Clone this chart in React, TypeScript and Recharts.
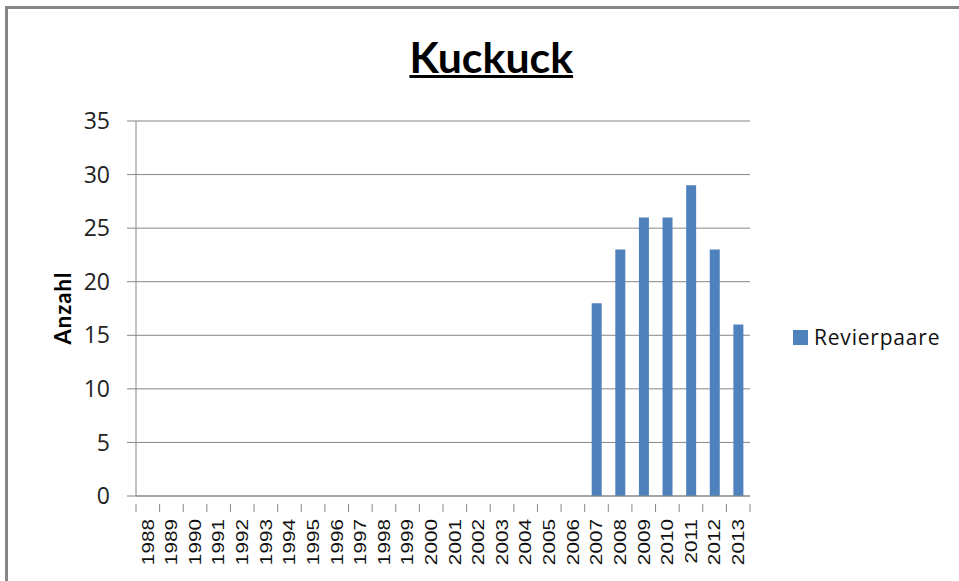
import React from 'react';
import { BarChart, Bar, XAxis, YAxis, CartesianGrid, Label } from 'recharts';

const years = ['1988','1989','1990','1991','1992','1993','1994','1995','1996','1997','1998','1999','2000','2001','2002','2003','2004','2005','2006','2007','2008','2009','2010','2011','2012','2013'];
const revierpaare: (number | null)[] = [null,null,null,null,null,null,null,null,null,null,null,null,null,null,null,null,null,null,null,18,23,26,26,29,23,16];
const yTicks = [0,5,10,15,20,25,30,35];
const seriesName = 'Revierpaare';
const title = 'Kuckuck';
const yLabel = 'Anzahl';

const data = years.map((y, i) => ({ year: y, value: revierpaare[i] }));

const GRAY = '#868686';
const BLUE = '#4F81BD';

const XTick = (props: any) => {
  const { x, y, payload, index } = props;
  const half = payload && payload.offset ? payload.offset : 11.8;
  const last = index === years.length - 1;
  return (
    <g>
      <line x1={x - half} x2={x - half} y1={y} y2={y + 8} stroke={GRAY} strokeWidth={1} />
      {last && <line x1={x + half} x2={x + half} y1={y} y2={y + 8} stroke={GRAY} strokeWidth={1} />}
      <text
        transform={`translate(${x},${y + 15}) rotate(-90) scale(1.22,1)`}
        textAnchor="end"
        dominantBaseline="central"
        fontSize={17}
        fontFamily="'Liberation Sans', Arial, sans-serif"
        fill="#111"
      >
        {payload.value}
      </text>
    </g>
  );
};

export default function App() {
  return (
    <div style={{ position: 'absolute', left: 0, top: 0, width: 959, height: 581, overflow: 'hidden', background: '#fff' }}>
      <div style={{ position: 'absolute', left: 5, top: 6, width: 1000, height: 700, border: `3px solid ${GRAY}`, boxSizing: 'border-box' }} />
      <div style={{ position: 'absolute', left: 0, width: 982, top: 32, textAlign: 'center' }}>
        <span style={{ display: 'inline-block', fontFamily: "Lato, sans-serif", fontWeight: 700, fontSize: 42, textDecoration: 'underline', textDecorationThickness: 3, color: '#000', transform: 'scaleX(1.02)' }}>{title}</span>
      </div>
      <div style={{ position: 'absolute', left: 0, top: 0 }}>
        <BarChart width={959} height={581} data={data} margin={{ top: 121, right: 209, bottom: 0, left: 76 }} barSize={10}>
          <CartesianGrid vertical={false} stroke={GRAY} strokeWidth={1} />
          <XAxis dataKey="year" interval={0} height={85} tickLine={false} axisLine={{ stroke: GRAY }} tick={<XTick />} />
          <YAxis
            width={60}
            domain={[0, 35]}
            ticks={yTicks}
            interval={0}
            tickSize={9}
            tickMargin={17}
            tickLine={{ stroke: GRAY }}
            axisLine={{ stroke: GRAY }}
            tick={{ fill: '#222', fontSize: 23, fontFamily: "'Open Sans', sans-serif" }}
          >
            <Label
              content={() => (
                <text
                  transform="translate(62,308) rotate(-90)"
                  textAnchor="middle"
                  dominantBaseline="central"
                  fontSize={22}
                  fontWeight={700}
                  letterSpacing={1}
                  fontFamily="Lato, sans-serif"
                  fill="#000"
                >
                  {yLabel}
                </text>
              )}
            />
          </YAxis>
          <Bar dataKey="value" name={seriesName} fill={BLUE} isAnimationActive={false} />
        </BarChart>
      </div>
      <div style={{ position: 'absolute', left: 793, top: 323, display: 'flex', alignItems: 'center', fontFamily: "'Open Sans', sans-serif", fontSize: 21, letterSpacing: 0.8, color: '#111' }}>
        <span style={{ display: 'inline-block', width: 15, height: 15, background: BLUE, marginRight: 6 }} />
        <span>{seriesName}</span>
      </div>
    </div>
  );
}
